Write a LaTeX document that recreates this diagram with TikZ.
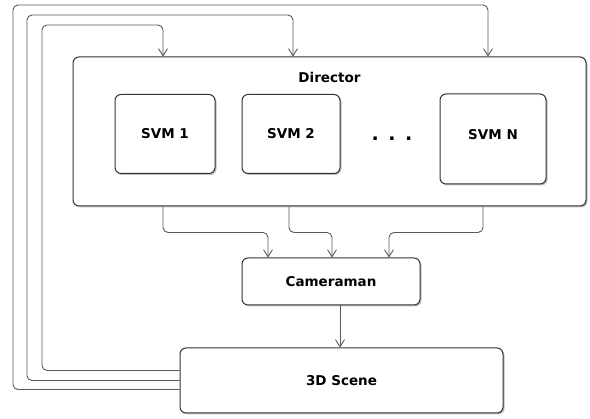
\documentclass[tikz,border=0pt]{standalone}
\usepackage{fontspec}
\setmainfont{DejaVu Sans}
\usetikzlibrary{arrows.meta,shadows}

\begin{document}
\begin{tikzpicture}[x=1pt,y=-1pt,
        box/.style={draw=black!80, line width=1pt, rounded corners=6pt, fill=white,
            drop shadow={shadow xshift=1.5pt, shadow yshift=-1.5pt, opacity=0.25, fill=black}},
        link/.style={draw=black!65, line width=0.9pt, rounded corners=5pt,
            -{Straight Barb[length=7pt, width=9pt]}},
        font=\fontsize{13.5}{15}\selectfont\bfseries]
        \useasboundingbox (0,0) rectangle (590,419);

        \node (director) [box, minimum width=513pt, minimum height=149pt] at (329.5,131.5) {};
        \node (directorlbl) at (329.5,77) {Director};

        \node (svm1) [box, minimum width=100pt, minimum height=79pt] at (165,134) {SVM 1};
        \node (svm2) [box, minimum width=98pt, minimum height=79pt] at (291,134) {SVM 2};
        \node (svmN) [box, minimum width=106pt, minimum height=90pt] at (493,139) {};
        \node (svmNlbl) at (493,135) {SVM N};
        \node (dots) [anchor=base] at (392,140.5) {\fontsize{19}{19}\selectfont .\hspace{9.5pt}.\hspace{9.5pt}.};

        \node (cameraman) [box, minimum width=178pt, minimum height=47pt] at (331,281.5) {Cameraman};
        \node (scene) [box, minimum width=323pt, minimum height=65pt] at (341.5,380.5) {3D Scene};

        % director -> cameraman
        \draw[link] ([xshift=-2pt]svm1.center |- director.south) -- ++(0,26) -| ([xshift=-63pt]cameraman.north);
        \draw[link] ([xshift=-2pt]svm2.center |- director.south) -- ++(0,26) -| ([xshift=1pt]cameraman.north);
        \draw[link] ([xshift=-10pt]svmN.center |- director.south) -- ++(0,26) -| ([xshift=58pt]cameraman.north);

        % cameraman -> scene
        \draw[link] ([xshift=9pt]cameraman.south) -- ([xshift=9pt]cameraman.south |- scene.north);

        % scene -> director
        \draw[link] ([yshift=10pt]scene.west) -| (42,25) -| ([xshift=-2pt]svm1.center |- director.north);
        \draw[link] ([yshift=0pt]scene.west) -| (27,15) -| ([xshift=2pt]svm2.center |- director.north);
        \draw[link] ([yshift=-9pt]scene.west) -| (13,5) -| ([xshift=-5pt]svmN.center |- director.north);
    \end{tikzpicture}
\end{document}
